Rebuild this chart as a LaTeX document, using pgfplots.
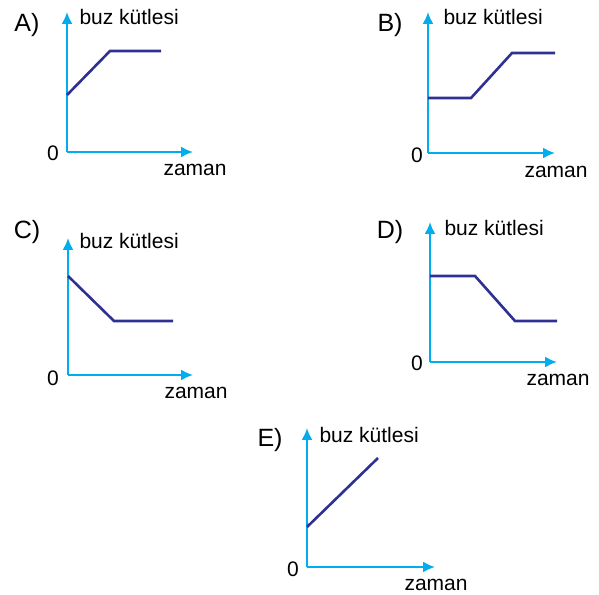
\documentclass[border=0pt]{standalone}
\usepackage{fontspec}
\setmainfont{Liberation Sans}
\usepackage{pgfplots}
\pgfplotsset{compat=1.18}
\usetikzlibrary{arrows.meta}

\definecolor{axcyan}{RGB}{0,174,239}
\definecolor{curve}{RGB}{46,49,146}

% one pt per pixel of the 599x594 reference
\pgfplotsset{graph/.style={
    x=1pt, y=1pt, xmin=0, ymin=0,
    axis lines=left,
    axis line style={axcyan, line width=2pt},
    every outer x axis line/.append style={-{Latex[length=12pt,width=11pt]}},
    every outer y axis line/.append style={-{Latex[length=12pt,width=11pt]}},
    xtick=\empty, ytick=\empty,
    clip=false, anchor=origin,
}}
\tikzset{ice/.style={curve, line width=2.6pt, line join=miter, mark=none}}
\newcommand{\lbl}{\fontsize{21}{24}\selectfont}
\newcommand{\letr}{\fontsize{25}{29}\selectfont}

\begin{document}
\begin{tikzpicture}
\useasboundingbox (0,0) rectangle (599pt,594pt);

% A
\begin{axis}[graph, at={(67pt,442pt)}, xmax=126, ymax=140]
\addplot[ice] coordinates {(0,57) (43,101) (94,101)};
\node[anchor=center] at (axis cs:-40,127) {\letr A)};
\node[anchor=west] at (axis cs:9,135) {\lbl buz kütlesi};
\node[anchor=west] at (axis cs:93,-18) {\lbl zaman};
\node[anchor=center] at (axis cs:-14,-1) {\lbl 0};
\end{axis}

% B
\begin{axis}[graph, at={(428pt,441pt)}, xmax=127, ymax=141]
\addplot[ice] coordinates {(0,55) (43,55) (84,100) (127,100)};
\node[anchor=center] at (axis cs:-38,128) {\letr B)};
\node[anchor=west] at (axis cs:12,136) {\lbl buz kütlesi};
\node[anchor=west] at (axis cs:93,-19) {\lbl zaman};
\node[anchor=center] at (axis cs:-11,-2) {\lbl 0};
\end{axis}

% C
\begin{axis}[graph, at={(68pt,219pt)}, xmax=125, ymax=137]
\addplot[ice] coordinates {(0,99) (46,54) (105,54)};
\node[anchor=center] at (axis cs:-41,143) {\letr C)};
\node[anchor=west] at (axis cs:8,134) {\lbl buz kütlesi};
\node[anchor=west] at (axis cs:93,-18) {\lbl zaman};
\node[anchor=center] at (axis cs:-15,-3) {\lbl 0};
\end{axis}

% D
\begin{axis}[graph, at={(430pt,232pt)}, xmax=127, ymax=140]
\addplot[ice] coordinates {(0,86) (45,86) (85,41) (127,41)};
\node[anchor=center] at (axis cs:-40,130) {\letr D)};
\node[anchor=west] at (axis cs:11,134) {\lbl buz kütlesi};
\node[anchor=west] at (axis cs:93,-18) {\lbl zaman};
\node[anchor=center] at (axis cs:-13,-1) {\lbl 0};
\end{axis}

% E
\begin{axis}[graph, at={(307pt,27pt)}, xmax=128, ymax=139]
\addplot[ice] coordinates {(0,40) (71,109)};
\node[anchor=center] at (axis cs:-37,127) {\letr E)};
\node[anchor=west] at (axis cs:9,132) {\lbl buz kütlesi};
\node[anchor=west] at (axis cs:94,-18) {\lbl zaman};
\node[anchor=center] at (axis cs:-14,-2) {\lbl 0};
\end{axis}
\end{tikzpicture}
\end{document}
